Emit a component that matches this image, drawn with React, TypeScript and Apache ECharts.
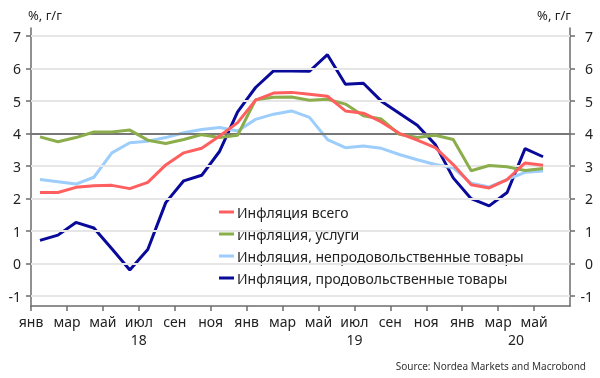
import React, { useEffect, useRef } from "react";
import * as echarts from "echarts";

const monthNames = ["янв", "фев", "мар", "апр", "май", "июн", "июл", "авг", "сен", "окт", "ноя", "дек"];
const years = ["18", "19", "20"];
const yTicks = [-1, 0, 1, 2, 3, 4, 5, 6, 7];
const targetLine = 4;

const seriesNames = [
  "Инфляция всего",
  "Инфляция, услуги",
  "Инфляция, непродовольственные товары",
  "Инфляция, продовольственные товары",
];
const seriesColors = ["#ff5f5f", "#8bad4b", "#9dcdfa", "#0a0a9a"];

// Jan 2018 .. May 2020, monthly
const total = [2.19, 2.19, 2.35, 2.4, 2.41, 2.31, 2.5, 3.04, 3.41, 3.55, 3.93, 4.34, 5.03, 5.25, 5.27, 5.21, 5.15, 4.7, 4.63, 4.36, 4.01, 3.8, 3.57, 3.05, 2.43, 2.33, 2.59, 3.1, 3.03];
const services = [3.9, 3.75, 3.88, 4.05, 4.05, 4.11, 3.8, 3.7, 3.82, 3.97, 3.88, 3.95, 5.04, 5.12, 5.13, 5.03, 5.06, 4.91, 4.55, 4.45, 3.98, 3.88, 3.95, 3.82, 2.86, 3.02, 2.98, 2.87, 2.93];
const nonFood = [2.59, 2.52, 2.45, 2.66, 3.41, 3.72, 3.77, 3.88, 4.03, 4.13, 4.19, 4.08, 4.44, 4.6, 4.7, 4.5, 3.82, 3.57, 3.62, 3.55, 3.36, 3.2, 3.05, 2.95, 2.48, 2.36, 2.59, 2.81, 2.85];
const food = [0.72, 0.88, 1.27, 1.1, 0.46, -0.19, 0.44, 1.88, 2.55, 2.72, 3.46, 4.67, 5.42, 5.93, 5.93, 5.92, 6.43, 5.52, 5.55, 5.0, 4.63, 4.26, 3.67, 2.64, 2.0, 1.78, 2.19, 3.54, 3.29];

const allSeries = [total, services, nonFood, food];

const FONT = "Noto Sans";

export default function App() {
  const ref = useRef<HTMLDivElement>(null);
  useEffect(() => {
    if (!ref.current) return;
    const chart = echarts.init(ref.current, undefined, { renderer: "svg" });
    const nMonths = total.length;
    const xMax = nMonths + 1; // axis runs to start of month after last
    const monthTicks: number[] = [];
    for (let m = 0; m < xMax; m += 2) monthTicks.push(m);
    const yearCenters = years.map((_, k) => {
      const start = k * 12;
      const end = Math.min((k + 1) * 12, xMax);
      return (start + end) / 2;
    });

    const yAxisBase = (pos: "left" | "right") => ({
      type: "value",
      position: pos,
      min: -1.3,
      max: 7.25,
      name: "%, г/г",
      nameLocation: "end",
      nameGap: 7,
      nameTextStyle: {
        fontFamily: FONT,
        fontSize: 13,
        color: "#222",
        align: pos === "left" ? "left" : "right",
        padding: pos === "left" ? [0, 0, 0, -3] : [0, -1, 0, 0],
      },
      axisLine: { show: true, onZero: false, lineStyle: { color: "#6b6b6b", width: 1.5 } },
      axisTick: { show: true, length: 5, customValues: yTicks, lineStyle: { color: "#6b6b6b", width: 1.5 } },
      axisLabel: {
        customValues: yTicks,
        fontFamily: FONT,
        fontSize: 14,
        color: "#222",
        margin: pos === "left" ? 10 : 23,
        align: "right",
      },
      splitLine: { show: false },
    });

    const lineSeries = allSeries.map((vals, i) => ({
      name: seriesNames[i],
      type: "line",
      data: vals.map((v, k) => [k + 0.5, v]),
      symbol: "none",
      showSymbol: false,
      lineStyle: { color: seriesColors[i], width: 3 },
      itemStyle: { color: seriesColors[i] },
      z: 3 + (3 - i),
    }));

    chart.setOption({
      animation: false,
      grid: { left: 31, right: 30, top: 28, bottom: 72 },
      title: {
        text: "Source: Nordea Markets and Macrobond",
        right: 9,
        top: 356,
        textStyle: { fontFamily: FONT, fontSize: 10, fontWeight: "normal", color: "#333" },
      },
      legend: {
        data: seriesNames,
        orient: "vertical",
        left: 214,
        top: 200,
        itemWidth: 15,
        itemHeight: 14,
        itemGap: 8,
        icon: "path://M0,6 L15,6 L15,9 L0,9 Z",
        textStyle: { fontFamily: FONT, fontSize: 14, color: "#222", padding: [0, 0, 0, -2] },
      },
      xAxis: [
        {
          type: "value",
          min: 0,
          max: xMax,
          position: "bottom",
          axisLine: { show: true, onZero: false, lineStyle: { color: "#6b6b6b", width: 1.5 } },
          axisTick: { show: true, length: 5, customValues: monthTicks, lineStyle: { color: "#6b6b6b", width: 1.5 } },
          axisLabel: {
            customValues: monthTicks,
            formatter: (v: number) => monthNames[Math.round(v) % 12],
            fontFamily: FONT,
            fontSize: 14,
            color: "#222",
            margin: 8,
          },
          splitLine: { show: false },
        },
        {
          type: "value",
          min: 0,
          max: xMax,
          position: "bottom",
          axisLine: { show: false, onZero: false },
          axisTick: { show: false },
          axisLabel: {
            customValues: yearCenters,
            formatter: (v: number) => years[Math.floor(v / 12)],
            fontFamily: FONT,
            fontSize: 14,
            color: "#222",
            margin: 26,
          },
          splitLine: { show: false },
        },
      ],
      yAxis: [yAxisBase("left"), yAxisBase("right")],
      series: [
        {
          name: "grid",
          type: "line",
          data: [],
          z: 1,
          silent: true,
          markLine: {
            silent: true,
            symbol: "none",
            label: { show: false },
            data: yTicks.map((t) => ({
              yAxis: t,
              lineStyle: t === targetLine
                ? { color: "#787878", width: 2, type: "solid" }
                : { color: "#e6e6e6", width: 2, type: "solid" },
            })),
          },
        },
        ...lineSeries,
      ],
    });
    return () => chart.dispose();
  }, []);
  return <div ref={ref} style={{ position: "fixed", left: 0, top: 0, width: 600, height: 378 }} />;
}
